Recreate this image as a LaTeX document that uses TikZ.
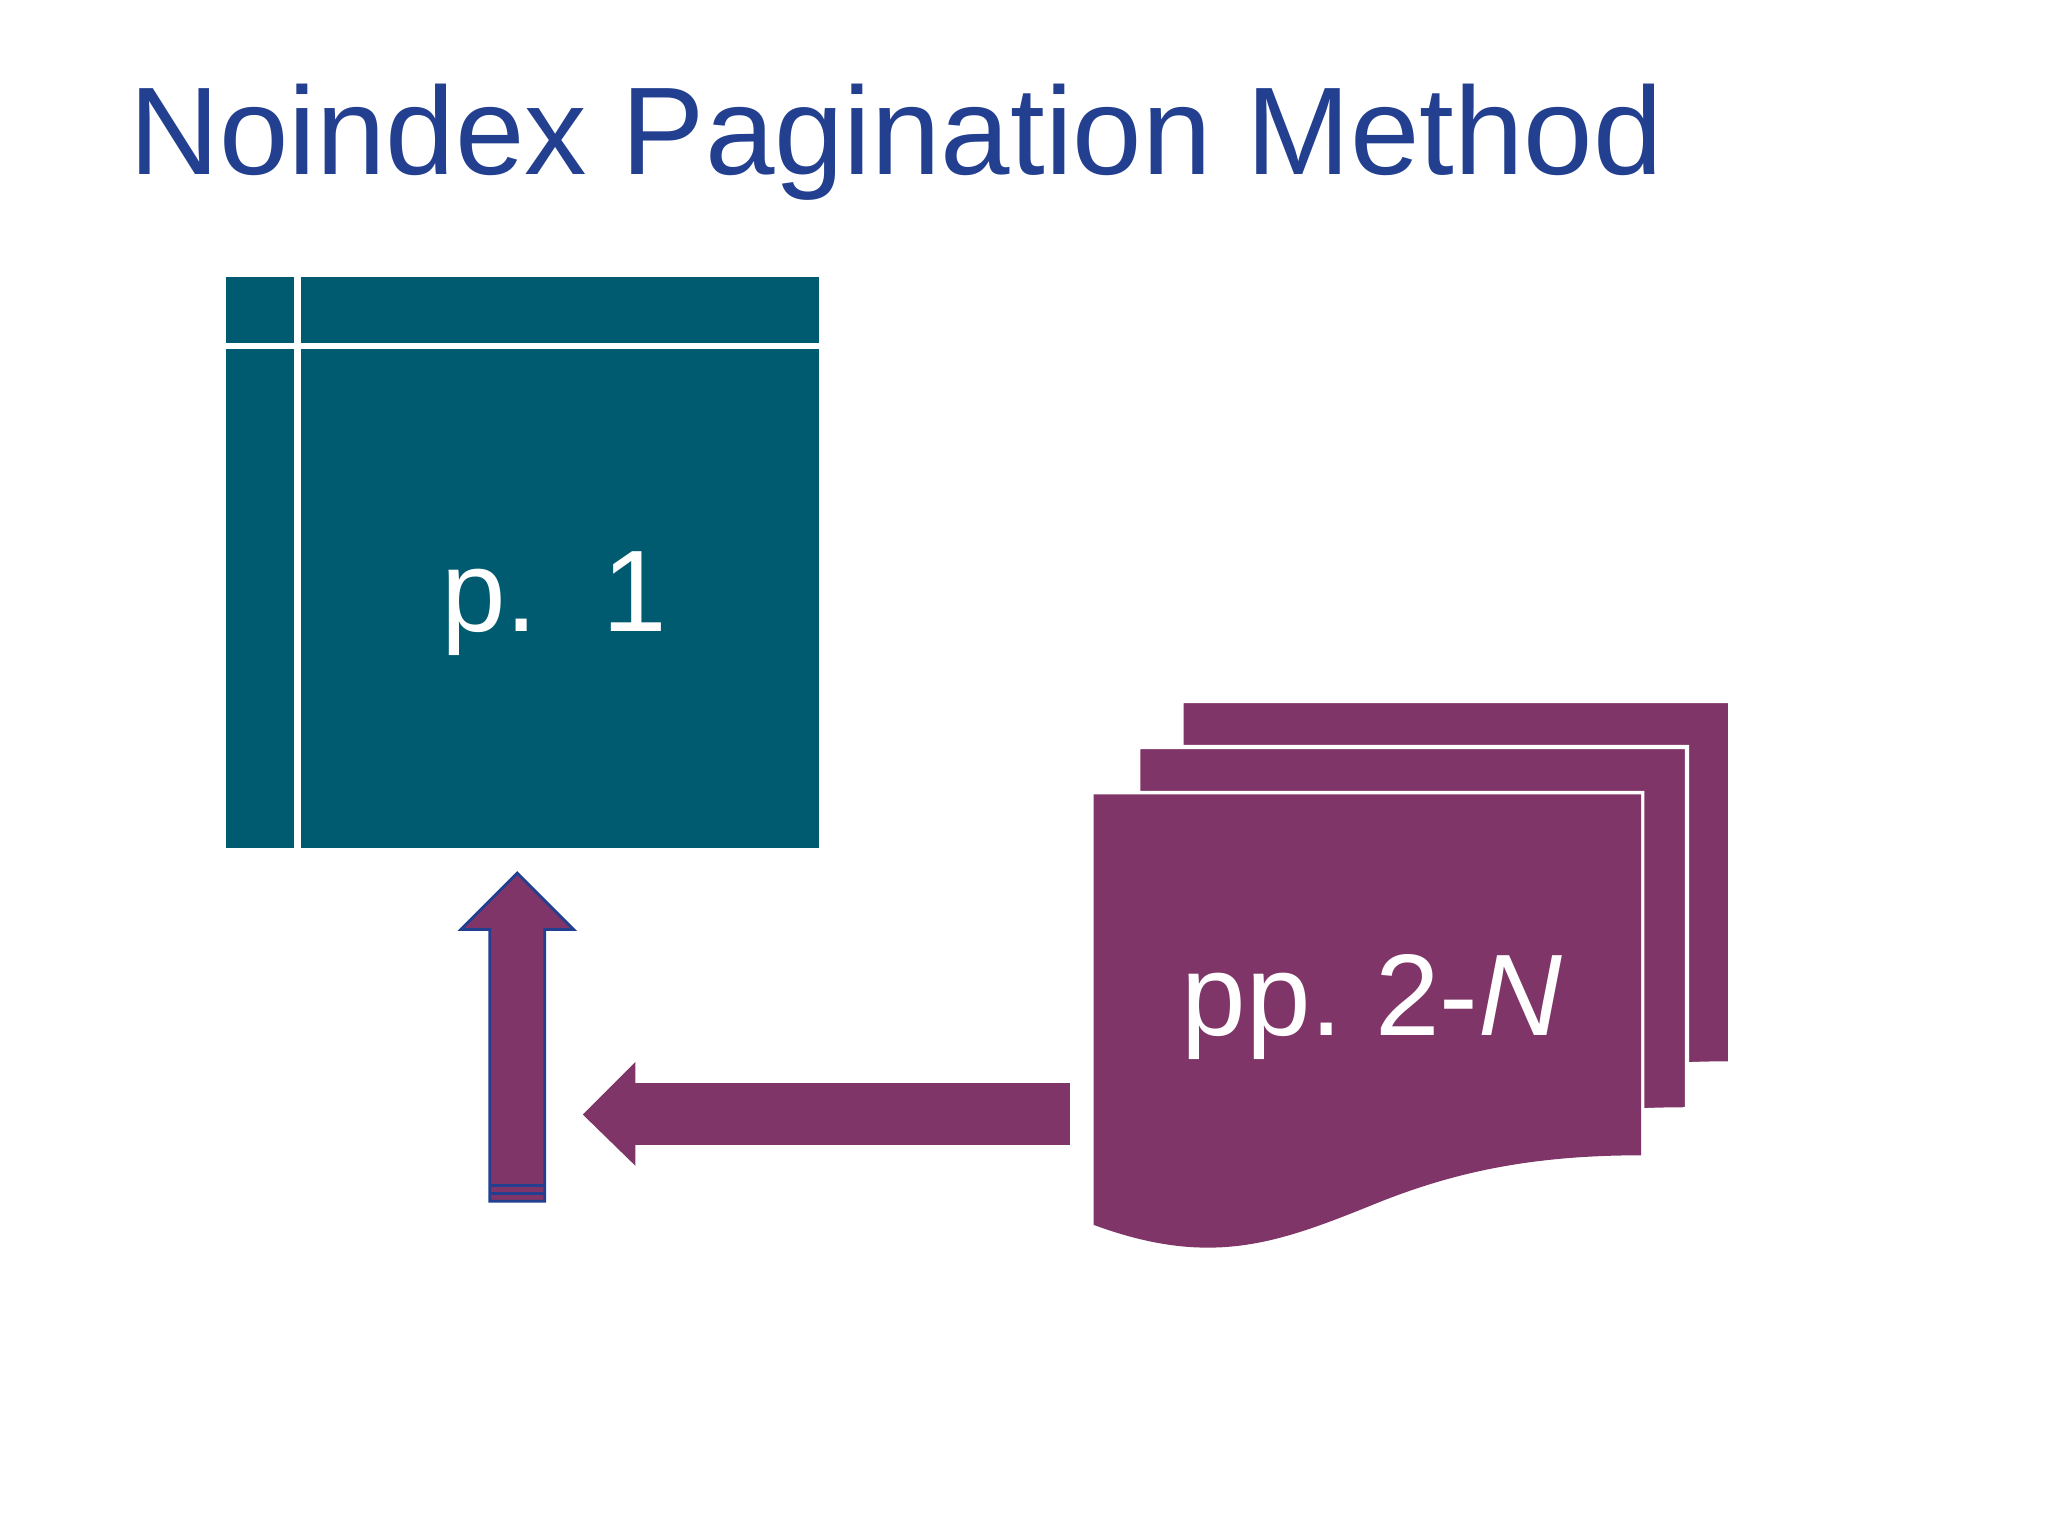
\documentclass[tikz,border=0pt]{standalone}
\usepackage{fontspec}
\setmainfont{Liberation Sans}
\definecolor{ttl}{HTML}{233F8F}
\definecolor{teal}{HTML}{005A70}
\definecolor{plum}{HTML}{7F3567}
\begin{document}
\begin{tikzpicture}[x=0.013128cm,y=-0.013128cm,
  tealbox/.style={fill=teal},
  page/.style={fill=plum,draw=white,line width=1.2pt},
  lbl/.style={text=white,font=\fontsize{33}{36}\selectfont,inner sep=0}]
\useasboundingbox (0,0) rectangle (1560,1170);
\node[anchor=base west,text=ttl,font=\fontsize{35.5}{40}\selectfont,inner sep=0] (title) at (98,133) {Noindex Pagination Method};
\fill[tealbox] (172,211) rectangle (224,261);
\fill[tealbox] (229,211) rectangle (624,261);
\fill[tealbox] (172,266) rectangle (224,646);
\fill[tealbox] (229,266) rectangle (624,646);
\node[lbl] (p1) at (422,460) {p.\ \ 1};
\foreach \dx/\dy in {67/-70,34/-35,0/0}{
  \begin{scope}[shift={(\dx,\dy)}]
  \path[page] (833,604) -- (1251,604) -- (1251,880) .. controls (1160,880) and (1100,895) .. (1040,920) .. controls (970,948) and (920,965) .. (833,933) -- cycle;
  \end{scope}}
\fill[plum] (833,605) -- (1250,605) -- (1250,880) .. controls (1160,880) and (1100,895) .. (1040,920) .. controls (970,948) and (920,965) .. (833,933) -- cycle;
\node[lbl] (pp) at (1045,767) {pp.\ 2-\textit{N}};
\fill[plum] (815,825) -- (484,825) -- (484,809) -- (444,849) -- (484,888) -- (484,872) -- (815,872) -- cycle;
\filldraw[fill=plum,draw=ttl,line width=0.8pt] (373,915) -- (373,708) -- (351,708) -- (394,665) -- (437,708) -- (415,708) -- (415,915) -- cycle;
\draw[ttl,line width=1pt] (373,903) -- (415,903) (373,909) -- (415,909);
\end{tikzpicture}
\end{document}
